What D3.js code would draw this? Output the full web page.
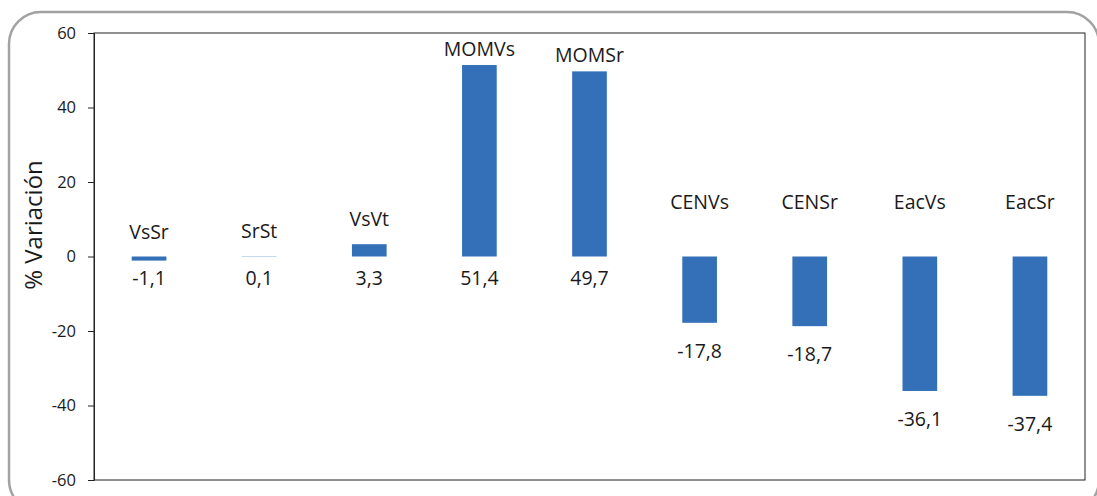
<!DOCTYPE html>
<html>
<head>
<meta charset="utf-8">
<script src="https://cdn.jsdelivr.net/npm/d3@7"></script>
<style>
  body { margin: 0; background: #fff; }
  svg text { font-family: "Open Sans", sans-serif; fill: #1a1a1a; }
</style>
</head>
<body>
<div id="chart"></div>
<script>
// data
var categories = ["VsSr", "SrSt", "VsVt", "MOMVs", "MOMSr", "CENVs", "CENSr", "EacVs", "EacSr"];
var values = [-1.1, 0.1, 3.3, 51.4, 49.7, -17.8, -18.7, -36.1, -37.4];
var yTicks = [-60, -40, -20, 0, 20, 40, 60];

var W = 1097, H = 496;
var margin = {left: 94, top: 33, right: 12, bottom: 16};

var svg = d3.select("#chart").append("svg")
  .attr("width", W).attr("height", H);

// outer rounded frame
svg.append("rect")
  .attr("x", 9).attr("y", 12)
  .attr("width", 1090).attr("height", 500)
  .attr("rx", 32).attr("ry", 32)
  .attr("fill", "none").attr("stroke", "#a2a2a2").attr("stroke-width", 2.5);

var x = d3.scaleBand()
  .domain(categories)
  .range([margin.left, W - margin.right])
  .paddingInner(0.685).paddingOuter(0.3425);

var y = d3.scaleLinear()
  .domain([-60, 60])
  .range([H - margin.bottom, margin.top]);

function fmt(d) { return String(d).replace(".", ","); }

// plot box
svg.append("rect")
  .attr("x", margin.left).attr("y", margin.top)
  .attr("width", W - margin.right - margin.left)
  .attr("height", y(-60) - y(60))
  .attr("fill", "none").attr("stroke", "#222").attr("stroke-width", 1);

var yAxis = svg.append("g")
  .attr("transform", "translate(" + margin.left + ",0)")
  .call(d3.axisLeft(y).tickValues(yTicks).tickSize(6).tickPadding(12)
    .tickFormat(function (d) { return String(d); }));
yAxis.select(".domain").attr("stroke", "#222");
yAxis.selectAll(".tick line").attr("stroke", "#222");
yAxis.selectAll(".tick text")
  .style("font-family", "'Open Sans', sans-serif")
  .style("font-size", "16.5px").attr("fill", "#1a1a1a");

svg.append("text")
  .attr("transform", "translate(42,225) rotate(-90)")
  .attr("text-anchor", "middle")
  .style("font-size", "24px")
  .text("% Variación");

// bars
svg.selectAll(".bar")
  .data(values)
  .enter().append("rect")
  .attr("class", "bar")
  .attr("x", function (d, i) { return x(categories[i]); })
  .attr("width", x.bandwidth())
  .attr("y", function (d) { return y(Math.max(d, 0)); })
  .attr("height", function (d) { return Math.max(Math.abs(y(d) - y(0)), 0.6); })
  .attr("fill", function (d) { return Math.abs(d) < 0.5 ? "#9dc0e8" : "#3370b8"; });

// category names above
svg.selectAll(".name")
  .data(values)
  .enter().append("text")
  .attr("class", "name")
  .attr("text-anchor", "middle")
  .style("font-size", "19.5px")
  .attr("x", function (d, i) { return x(categories[i]) + x.bandwidth() / 2; })
  .attr("y", function (d) {
    if (d > 5) return y(d) - 9;
    if (d < -5) return y(0) - 48;
    return y(Math.max(d, 0)) - 18;
  })
  .text(function (d, i) { return categories[i]; });

// values below
svg.selectAll(".val")
  .data(values)
  .enter().append("text")
  .attr("class", "val")
  .attr("text-anchor", "middle")
  .style("font-size", "19.5px")
  .attr("x", function (d, i) { return x(categories[i]) + x.bandwidth() / 2; })
  .attr("y", function (d) {
    if (d < -5) return y(d) + 35;
    return y(0) + 28;
  })
  .text(function (d) { return fmt(d); });
</script>
</body>
</html>
